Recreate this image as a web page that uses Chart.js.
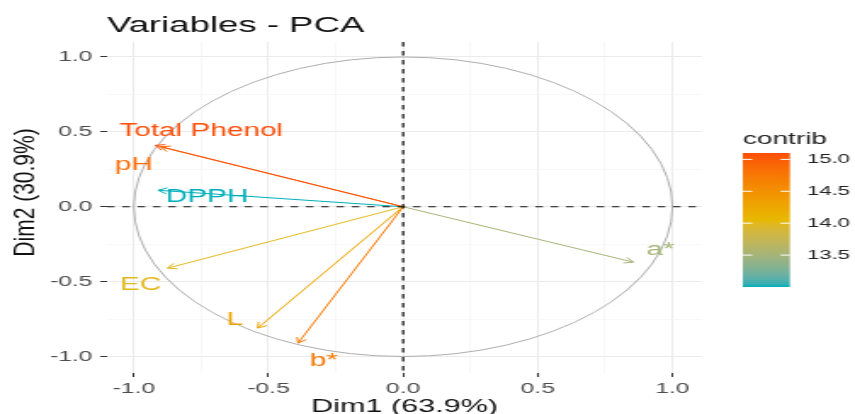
<!DOCTYPE html>
<html><head><meta charset="utf-8">
<script src="https://cdn.jsdelivr.net/npm/chart.js@4.4.0/dist/chart.umd.min.js"></script>
<style>
html,body{margin:0;padding:0;background:#fff;overflow:hidden;width:855px;height:414px;}
#wrap{position:absolute;left:0;top:0;width:503px;height:414px;transform:scale(1.6998,1);transform-origin:0 0;}
canvas{display:block;}
</style></head><body>
<div id="wrap"><canvas id="c" width="503" height="414"></canvas></div>
<script>
// ---- data ----
const variables = ["Total Phenol", "pH", "DPPH", "EC", "L", "b*", "a*"];
const dim1 = [-0.92, -0.90, -0.91, -0.875, -0.54, -0.39, 0.855];
const dim2 = [0.41, 0.40, 0.11, -0.41, -0.81, -0.91, -0.37];
const contrib = [15.1, 14.85, 13.0, 14.0, 14.3, 14.75, 13.5];
const labelX = [-0.75, -1.0, -0.728, -0.975, -0.625, -0.294, 0.956];
const labelY = [0.505, 0.278, 0.061, -0.525, -0.755, -1.032, -0.293];
const axisTicks = [-1, -0.75, -0.5, -0.25, 0, 0.25, 0.5, 0.75, 1];
const legendTicks = [13.5, 14.0, 14.5, 15.0];
const gradientColors = ["#00AFBB", "#E7B800", "#FC4E07"];
const titleText = "Variables - PCA";
const xTitle = "Dim1 (63.9%)";
const yTitle = "Dim2 (30.9%)";
const legendTitle = "contrib";

// ---- colour ramp in Lab space ----
function hexToRgb(h){const n=parseInt(h.slice(1),16);return [(n>>16)&255,(n>>8)&255,n&255];}
function toLin(c){c/=255;return c<=0.04045?c/12.92:Math.pow((c+0.055)/1.055,2.4);}
function fromLin(c){const v=c<=0.0031308?12.92*c:1.055*Math.pow(c,1/2.4)-0.055;return Math.round(Math.max(0,Math.min(1,v))*255);}
const Xn=0.95047,Yn=1,Zn=1.08883;
function ff(t){return t>0.008856?Math.cbrt(t):7.787*t+16/116;}
function finv(t){return t>0.206893?t*t*t:(t-16/116)/7.787;}
function rgbToLab(c){const r=toLin(c[0]),g=toLin(c[1]),b=toLin(c[2]);
  const X=(0.4124*r+0.3576*g+0.1805*b)/Xn,Y=(0.2126*r+0.7152*g+0.0722*b)/Yn,Z=(0.0193*r+0.1192*g+0.9505*b)/Zn;
  const fx=ff(X),fy=ff(Y),fz=ff(Z);return [116*fy-16,500*(fx-fy),200*(fy-fz)];}
function labToRgb(l){const fy=(l[0]+16)/116,fx=fy+l[1]/500,fz=fy-l[2]/200;
  const X=finv(fx)*Xn,Y=finv(fy)*Yn,Z=finv(fz)*Zn;
  const r=3.2406*X-1.5372*Y-0.4986*Z,g=-0.9689*X+1.8758*Y+0.0415*Z,b=0.0557*X-0.2040*Y+1.0570*Z;
  return [fromLin(r),fromLin(g),fromLin(b)];}
const labs = gradientColors.map(h=>rgbToLab(hexToRgb(h)));
const cMin = Math.min(...contrib), cMax = Math.max(...contrib);
function colorFor(v){
  let t=(v-cMin)/(cMax-cMin); t=Math.max(0,Math.min(1,t));
  const seg=t<0.5?0:1, u=(t-seg*0.5)/0.5;
  const a=labs[seg],b=labs[seg+1];
  const c=labToRgb([a[0]+(b[0]-a[0])*u,a[1]+(b[1]-a[1])*u,a[2]+(b[2]-a[2])*u]);
  return `rgb(${c[0]},${c[1]},${c[2]})`;
}
const colors = contrib.map(colorFor);

const FONT = "'Liberation Sans', Arial, sans-serif";
const isMajor = v => Math.abs(v*2-Math.round(v*2))<1e-9;

const pcaPlugin = {
  id: 'pca',
  beforeDatasetsDraw(chart){
    const {ctx, scales:{x,y}} = chart;
    const cx=x.getPixelForValue(0), cy=y.getPixelForValue(0);
    const rx=x.getPixelForValue(1)-cx, ry=cy-y.getPixelForValue(1);
    ctx.save();
    ctx.strokeStyle='#ADADAD'; ctx.lineWidth=1;
    ctx.beginPath(); ctx.ellipse(cx,cy,rx,ry,0,0,Math.PI*2); ctx.stroke();
    ctx.restore();
  },
  afterDatasetsDraw(chart){
    const {ctx, chartArea:a, scales:{x,y}} = chart;
    const ox=x.getPixelForValue(0), oy=y.getPixelForValue(0);
    ctx.save();
    // arrowheads
    const L=6, ang=Math.PI/6;
    variables.forEach((v,i)=>{
      const px=x.getPixelForValue(dim1[i]), py=y.getPixelForValue(dim2[i]);
      const th=Math.atan2(py-oy,px-ox);
      ctx.strokeStyle=colors[i]; ctx.lineWidth=1;
      ctx.beginPath();
      ctx.moveTo(px-L*Math.cos(th-ang), py-L*Math.sin(th-ang));
      ctx.lineTo(px,py);
      ctx.lineTo(px-L*Math.cos(th+ang), py-L*Math.sin(th+ang));
      ctx.stroke();
    });
    // labels
    ctx.font = `17.5px ${FONT}`;
    ctx.textAlign='center'; ctx.textBaseline='middle';
    variables.forEach((v,i)=>{
      ctx.fillStyle=colors[i];
      ctx.fillText(v, x.getPixelForValue(labelX[i]), y.getPixelForValue(labelY[i]));
    });
    // zero lines
    ctx.strokeStyle='#111'; ctx.lineWidth=1.2; ctx.setLineDash([4.5,4.5]);
    ctx.beginPath(); ctx.moveTo(a.left,oy); ctx.lineTo(a.right,oy); ctx.stroke();
    ctx.beginPath(); ctx.moveTo(ox,a.top); ctx.lineTo(ox,a.bottom); ctx.stroke();
    ctx.restore();
  },
  afterDraw(chart){
    const {ctx} = chart;
    ctx.save();
    // y axis title
    ctx.font=`21px ${FONT}`; ctx.fillStyle='#111';
    ctx.textAlign='center'; ctx.textBaseline='middle';
    ctx.translate(15.5, 192.5); ctx.rotate(-Math.PI/2); ctx.scale(1, 0.82);
    ctx.fillText(yTitle, 0, 0);
    ctx.restore();
    // colour bar legend
    const bx=437, bw=27.7, top=153, bot=287;
    const vy = v => bot-(v-cMin)/(cMax-cMin)*(bot-top);
    ctx.save();
    const g=ctx.createLinearGradient(0,bot,0,top);
    for(let k=0;k<=40;k++){ g.addColorStop(k/40, colorFor(cMin+(cMax-cMin)*k/40)); }
    ctx.fillStyle=g; ctx.fillRect(bx,top,bw,bot-top);
    ctx.strokeStyle='#fff'; ctx.lineWidth=1;
    ctx.font=`13px ${FONT}`; ctx.fillStyle='#222';
    ctx.textAlign='left'; ctx.textBaseline='middle';
    legendTicks.forEach(v=>{
      const yy=vy(v);
      ctx.beginPath(); ctx.moveTo(bx,yy); ctx.lineTo(bx+5.5,yy);
      ctx.moveTo(bx+bw-5.5,yy); ctx.lineTo(bx+bw,yy); ctx.stroke();
      ctx.fillText(v.toFixed(1), 474.7, yy);
    });
    ctx.font=`16.5px ${FONT}`; ctx.fillStyle='#222';
    ctx.fillText(legendTitle, bx, 139.5);
    ctx.restore();
  }
};

const gridOpts = {
  color: c => isMajor(c.tick.value) ? '#EBEBEB' : '#F3F3F3',
  lineWidth: c => isMajor(c.tick.value) ? 1 : 0.6,
  tickColor: c => isMajor(c.tick.value) ? '#333333' : 'rgba(0,0,0,0)',
  tickLength: 4, tickWidth: 1, drawTicks: true
};
const tickCb = v => isMajor(v) ? Number(v).toFixed(1) : '';

new Chart(document.getElementById('c'), {
  type: 'scatter',
  data: {
    datasets: variables.map((v,i)=>({
      label: v,
      data: [{x:0,y:0},{x:dim1[i],y:dim2[i]}],
      showLine: true, borderColor: colors[i], borderWidth: 1,
      pointRadius: 0, pointHoverRadius: 0, fill: false
    }))
  },
  options: {
    responsive: false, animation: false, devicePixelRatio: 1,
    layout: { padding: { left: 0, right: 90, top: 0, bottom: 0 } },
    plugins: {
      legend: { display: false }, tooltip: { enabled: false },
      title: { display: true, text: titleText, align: 'start', fullSize: false, color: '#111',
               font: { family: FONT, size: 21.5, weight: 'normal', lineHeight: 1.2 },
               padding: { top: 13.4, bottom: 2.8 } }
    },
    scales: {
      x: {
        type: 'linear', min: -1.1, max: 1.11,
        afterBuildTicks: s => { s.ticks = axisTicks.map(v=>({value:v})); },
        afterFit: s => { s.height = 41; },
        grid: gridOpts, border: { display: false },
        ticks: { autoSkip: false, maxRotation: 0, padding: 3.5, color: '#4D4D4D',
                 font: { family: FONT, size: 14.5 }, callback: tickCb },
        title: { display: true, text: xTitle, color: '#111',
                 font: { family: FONT, size: 18, lineHeight: 1 }, padding: { top: 0, bottom: -1.7 } }
      },
      y: {
        type: 'linear', min: -1.11, max: 1.10,
        afterBuildTicks: s => { s.ticks = axisTicks.map(v=>({value:v})); },
        afterFit: s => { s.width = 62.9; },
        grid: gridOpts, border: { display: false },
        ticks: { autoSkip: false, padding: 4.5, color: '#4D4D4D',
                 font: { family: FONT, size: 14.5 }, callback: tickCb },
        title: { display: false, text: yTitle }
      }
    }
  },
  plugins: [pcaPlugin]
});
</script>
</body></html>
